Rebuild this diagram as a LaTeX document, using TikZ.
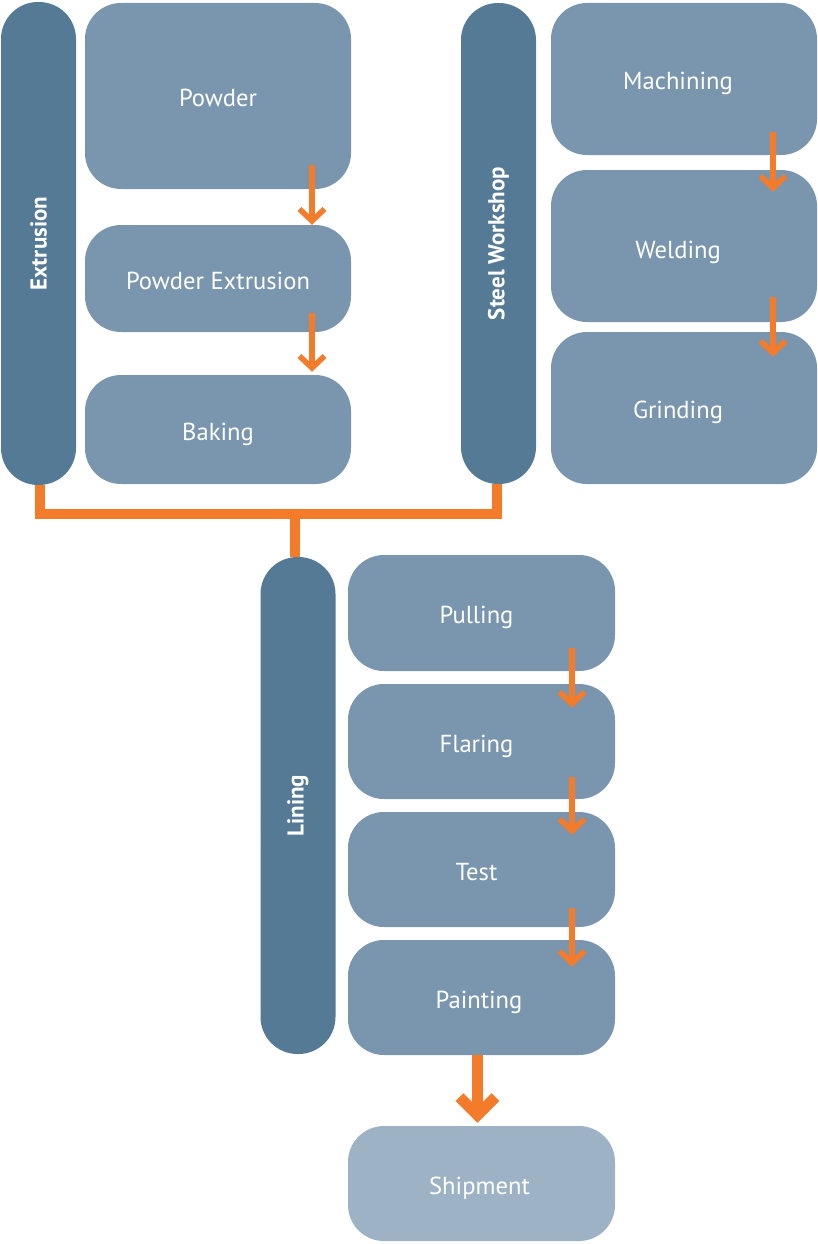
\documentclass[tikz,border=0pt]{standalone}
\usepackage{fontspec}
\setmainfont{PT Sans}
\usepackage{graphicx}
\usetikzlibrary{arrows.meta}
\definecolor{bardark}{HTML}{557A96}
\definecolor{boxblue}{HTML}{7A96AE}
\definecolor{shiplight}{HTML}{9DB2C4}
\definecolor{orng}{HTML}{F47B2A}
\begin{document}
\begin{tikzpicture}[x=1pt,y=-1pt,
  bar/.style={fill=bardark, rounded corners=37pt, inner sep=0pt, minimum width=75pt, text=white, font=\bfseries\fontsize{23}{27}\selectfont},
  box/.style={fill=boxblue, rounded corners=36pt, inner sep=0pt, minimum width=266pt, text height=21pt, text depth=0pt, text=white, font=\fontsize{24.6}{29}\selectfont},
  shipbox/.style={box, fill=shiplight},
  lshift/.style={execute at end node={\hspace*{#1}}},
  sarr/.style={draw=orng, line width=5.5pt, -{Straight Barb[length=12pt,width=25pt]}},
  barr/.style={draw=orng, line width=11pt, -{Straight Barb[length=18pt,width=36pt]}},
  conn/.style={draw=orng, line width=10pt},
]
\useasboundingbox (0,0) rectangle (817,1244);
% bars
\node[bar, minimum height=483pt] (extr) at (38.5,243.5) {\rotatebox{90}{Extrusion}};
\node[bar, minimum height=481pt] (steel) at (498.5,243.5) {\rotatebox{90}{Steel Workshop}};
\node[bar, minimum height=497pt] (lining) at (298,805.5) {\rotatebox{90}{Lining}};
% left column
\node[box, minimum height=186pt] (powder) at (218,96) {Powder};
\node[box, minimum height=107pt] (pext) at (218,278.5) {Powder Extrusion};
\node[box, minimum height=109pt] (baking) at (218,429.5) {Baking};
% right column
\node[box, lshift=12pt, minimum height=152pt] (mach) at (684,79) {Machining};
\node[box, lshift=12pt, minimum height=152pt, text height=25pt] (weld) at (684,246) {Welding};
\node[box, lshift=12pt, minimum height=152pt] (grind) at (684,408) {Grinding};
% lining column
\node[box, lshift=10pt, minimum width=267pt, minimum height=116pt] (pull) at (481.5,613) {Pulling};
\node[box, lshift=10pt, minimum width=267pt, minimum height=115pt] (flare) at (481.5,741.5) {Flaring};
\node[box, lshift=10pt, minimum width=267pt, minimum height=115pt] (test) at (481.5,869.5) {Test};
\node[box, lshift=5pt, minimum width=267pt, minimum height=115pt] (paint) at (481.5,997.5) {Painting};
\node[shipbox, lshift=4pt, minimum width=267pt, minimum height=115pt] (ship) at (481.5,1183.5) {Shipment};
% small arrows
\draw[sarr] ([xshift=94pt,yshift=24pt]powder.south) -- ([xshift=94pt]pext.north);
\draw[sarr] ([xshift=94pt,yshift=19pt]pext.south) -- ([xshift=94pt,yshift=3pt]baking.north);
\draw[sarr] ([xshift=89pt,yshift=23pt]mach.south) -- ([xshift=89pt,yshift=-22pt]weld.north);
\draw[sarr] ([xshift=89pt,yshift=25pt]weld.south) -- ([xshift=89pt,yshift=-25pt]grind.north);
\draw[sarr] ([xshift=90.5pt,yshift=23pt]pull.south) -- ([xshift=90.5pt,yshift=-24pt]flare.north);
\draw[sarr] ([xshift=90.5pt,yshift=22pt]flare.south) -- ([xshift=90.5pt,yshift=-23pt]test.north);
\draw[sarr] ([xshift=90.5pt,yshift=19pt]test.south) -- ([xshift=90.5pt,yshift=-27pt]paint.north);
% big arrow
\draw[barr] ([xshift=-4pt]paint.south) -- ([xshift=-4pt,yshift=3pt]ship.north);
% connector
\coordinate (j) at (295,514);
\draw[conn] ([xshift=1.5pt]extr.south) |- (j) -| ([xshift=-1.5pt]steel.south);
\draw[conn] (j) -- (j |- lining.north);
\end{tikzpicture}
\end{document}
